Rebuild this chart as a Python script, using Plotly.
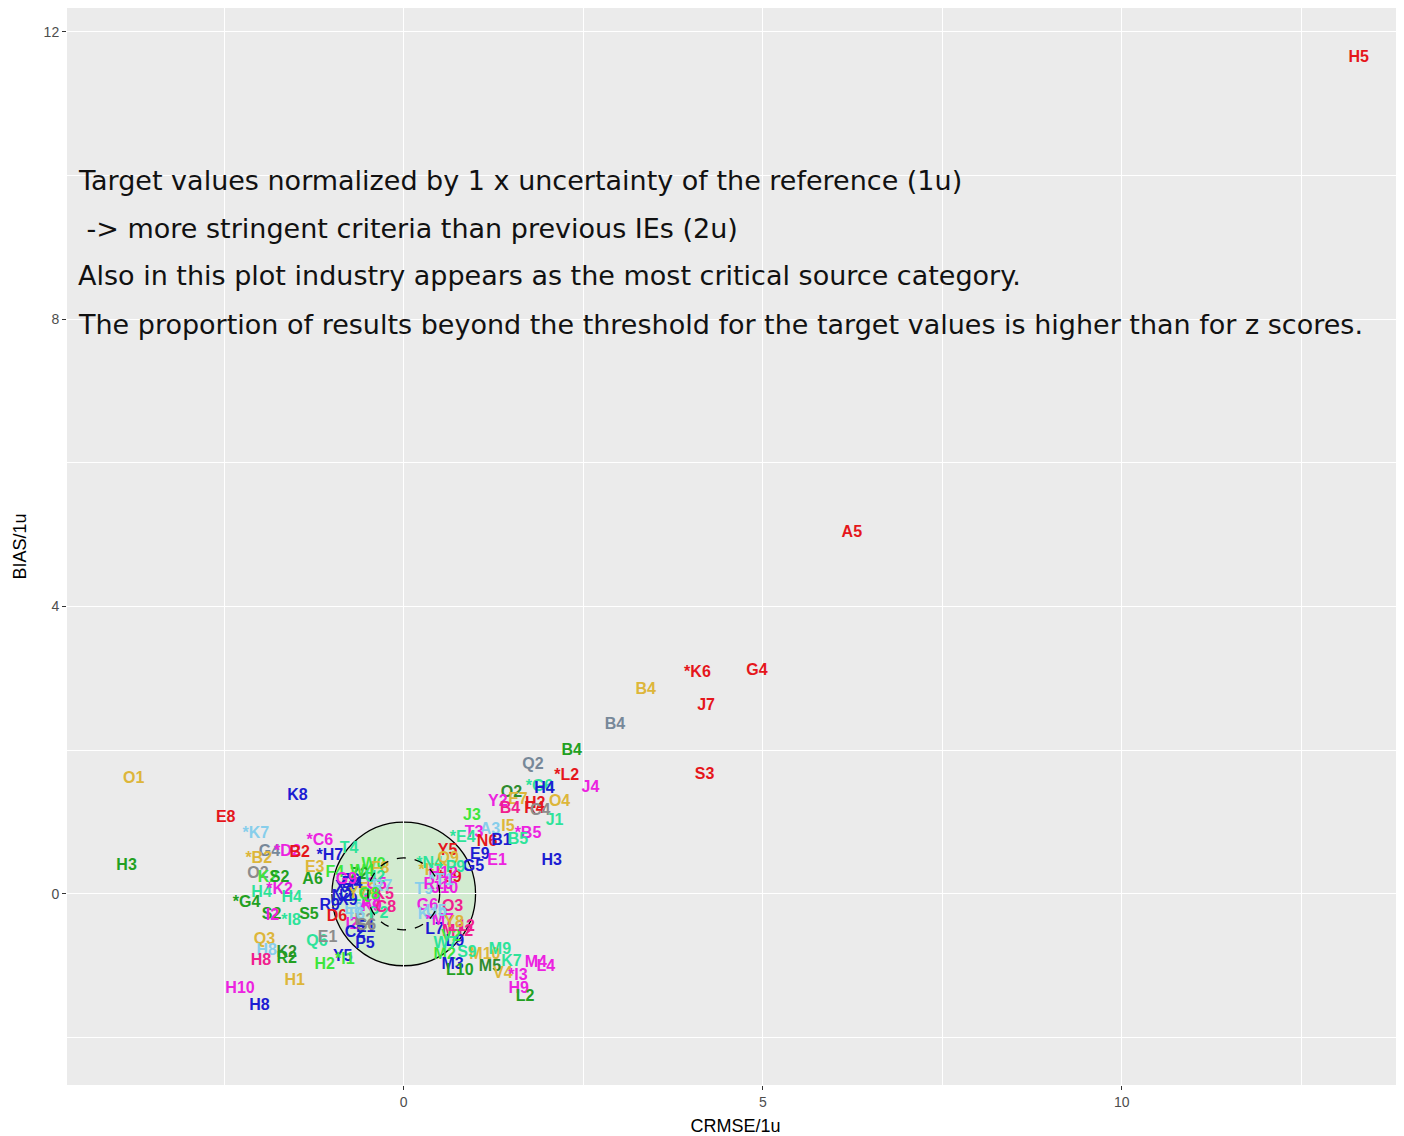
import plotly.graph_objects as go

# ---- data: label, CRMSE/1u (x), BIAS/1u (y), colour group ----
labels = [
    "H5", "A5", "*K6", "G4", "B4", "J7", "B4", "B4", "S3", "Q2", "*L2", "J4", "*G6", "H4",
    "O2", "Y2", "E7", "H2", "O4", "B4", "R4", "C4", "J1", "J3", "I5", "*B5", "A3", "T3",
    "*E4", "N6", "B1", "B5", "Y5", "E9", "E1", "H3", "G5", "*J9", "J10", "G6", "O3", "L7",
    "M12", "L9", "M2", "M3", "L10", "M10", "M9", "M5", "K7", "V4", "*I3", "M4", "L4", "H9", "L2",
    "O1", "H3", "K8", "E8", "*K7", "G4", "*D2", "B2", "*C6", "*H7", "T4", "*B2", "E3", "O2",
    "K2", "S2", "A6", "F4", "H4", "*K2", "H4", "*G4", "S2", "I2", "*I8", "S5", "R9", "D6",
    "Q3", "H8", "K2", "H8", "R2", "Q6", "E1", "P5", "Y5", "H2", "*I1", "H1", "H10", "H8",
    "E1", "I2", "C2",
    # dense cluster left of centre
    "W0", "F8", "Z6", "X4", "K9", "L5", "L8", "E2", "C5", "Z2", "X9", "K5", "F2", "T6",
    "P2", "W4", "A8", "N2", "Y7", "C8", "D4", "U2", "S6", "R7", "G9", "Q8",
    # dense cluster right of centre
    "*F7", "H12", "T9", "*N4", "R10", "Q9", "K10", "*M7", "P9", "V2", "L12", "W7", "U5",
    "S9", "*T1", "Y8",
]
x_vals = [
    13.30, 6.24, 4.09, 4.92, 3.37, 4.21, 2.94, 2.34, 4.19, 1.80, 2.27, 2.60, 1.89, 1.96,
    1.50, 1.31, 1.59, 1.83, 2.17, 1.48, 1.82, 1.90, 2.10, 0.95, 1.45, 1.73, 1.20, 0.98,
    0.82, 1.16, 1.36, 1.59, 0.61, 1.06, 1.30, 2.06, 0.97, 0.64, 0.57, 0.33, 0.68, 0.43,
    0.75, 0.71, 0.57, 0.68, 0.78, 1.13, 1.34, 1.20, 1.50, 1.38, 1.59, 1.84, 1.98, 1.60, 1.69,
    -3.76, -3.86, -1.48, -2.48, -2.06, -1.87, -1.62, -1.45, -1.17, -1.03, -0.76, -2.02, -1.24, -2.03,
    -1.89, -1.73, -1.27, -0.96, -1.98, -1.73, -1.56, -2.19, -1.84, -1.83, -1.57, -1.32, -1.03, -0.93,
    -1.94, -1.91, -1.63, -1.99, -1.63, -1.21, -1.06, -0.54, -0.85, -1.10, -0.82, -1.52, -2.28, -2.01,
    -0.53, -0.72, -0.68,
    -0.42, -0.33, -0.74, -0.82, -0.45, -0.60, -0.70, -0.55, -0.38, -0.62, -0.78, -0.28, -0.50, -0.67,
    -0.35, -0.58, -0.46, -0.86, -0.64, -0.25, -0.72, -0.40, -0.52, -0.30, -0.80, -0.48,
    0.38, 0.55, 0.28, 0.36, 0.48, 0.62, 0.40, 0.50, 0.72, 0.66, 0.80, 0.58, 0.45,
    0.88, 0.52, 0.70,
]
y_vals = [
    11.63, 5.02, 3.07, 3.10, 2.84, 2.61, 2.35, 1.99, 1.66, 1.79, 1.64, 1.47, 1.49, 1.46,
    1.40, 1.28, 1.31, 1.25, 1.28, 1.18, 1.18, 1.15, 1.02, 1.08, 0.93, 0.83, 0.89, 0.85,
    0.78, 0.72, 0.74, 0.75, 0.60, 0.54, 0.46, 0.46, 0.38, 0.22, 0.07, -0.17, -0.18, -0.50,
    -0.53, -0.67, -0.85, -0.99, -1.07, -0.85, -0.78, -1.02, -0.95, -1.11, -1.14, -0.96, -1.02, -1.32, -1.43,
    1.60, 0.39, 1.36, 1.06, 0.83, 0.58, 0.58, 0.57, 0.74, 0.53, 0.62, 0.49, 0.36, 0.28,
    0.22, 0.22, 0.19, 0.29, 0.01, 0.06, -0.06, -0.13, -0.29, -0.31, -0.38, -0.29, -0.17, -0.32,
    -0.64, -0.80, -0.82, -0.93, -0.90, -0.67, -0.62, -0.70, -0.88, -0.99, -0.92, -1.21, -1.32, -1.56,
    -0.47, -0.43, -0.55,
    0.40, 0.34, 0.18, 0.08, -0.18, -0.05, -0.22, -0.38, 0.12, 0.26, -0.10, -0.02, 0.05, -0.30,
    -0.28, 0.30, -0.12, -0.05, 0.00, -0.20, 0.14, 0.22, -0.45, 0.10, 0.20, -0.02,
    0.32, 0.28, 0.05, 0.42, 0.12, 0.48, -0.30, -0.38, 0.36, -0.60, -0.46, -0.70, -0.25,
    -0.82, 0.18, -0.40,
]
groups = [
    "red", "red", "red", "red", "gold", "red", "slate", "green", "red", "slate", "red", "magenta", "spring", "blue",
    "dkgreen", "magenta", "gold", "red", "gold", "pink", "red", "gray", "spring", "bright", "gold", "magenta", "light", "magenta",
    "spring", "red", "blue", "spring", "red", "blue", "magenta", "blue", "blue", "red", "magenta", "magenta", "pink", "blue",
    "pink", "blue", "bright", "blue", "green", "gold", "spring", "dkgreen", "spring", "gold", "magenta", "magenta", "magenta", "magenta", "green",
    "gold", "green", "blue", "red", "light", "slate", "magenta", "red", "magenta", "blue", "spring", "gold", "gold", "gray",
    "bright", "green", "green", "bright", "spring", "magenta", "spring", "green", "green", "magenta", "spring", "green", "blue", "red",
    "gold", "light", "dkgreen", "pink", "green", "spring", "gray", "blue", "blue", "bright", "bright", "gold", "magenta", "blue",
    "blue", "magenta", "blue",
    "bright", "gold", "blue", "blue", "magenta", "spring", "light", "gray", "magenta", "green", "blue", "pink", "gold", "light",
    "spring", "bright", "magenta", "blue", "gold", "pink", "blue", "spring", "gray", "light", "magenta", "bright",
    "gold", "magenta", "light", "spring", "magenta", "gold", "light", "magenta", "spring", "bright", "pink", "spring", "light",
    "spring", "light", "gold",
]

palette = {
    "red": "#E5161B", "gold": "#DDB63A", "blue": "#1C1CD2", "green": "#22A022",
    "slate": "#778899", "magenta": "#EC22E0", "pink": "#F0208E", "light": "#87CEEB",
    "spring": "#2EE39A", "bright": "#3DE63D", "dkgreen": "#2E8B2E", "gray": "#8C8C8C",
}
colors = [palette[g] for g in groups]

notes = [
    "Target values normalized by 1 x uncertainty of the reference (1u)",
    " -> more stringent criteria than previous IEs (2u)",
    "Also in this plot industry appears as the most critical source category.",
    "The proportion of results beyond the threshold for the target values is higher than for z scores.",
]
note_y = [9.93, 9.26, 8.60, 7.93]

fig = go.Figure()

fig.add_trace(go.Scatter(
    x=x_vals, y=y_vals, mode="text", text=labels,
    textfont=dict(family="Liberation Sans, Arial, sans-serif", size=16, color=colors, weight="bold"),
    textposition="middle center", hoverinfo="skip", showlegend=False,
))

# target circles
fig.add_shape(type="circle", xref="x", yref="y", x0=-1, y0=-1, x1=1, y1=1,
              fillcolor="rgba(190,235,185,0.55)", line=dict(color="black", width=1.3), layer="below")
fig.add_shape(type="circle", xref="x", yref="y", x0=-0.5, y0=-0.5, x1=0.5, y1=0.5,
              line=dict(color="black", width=1.3, dash="dash"), layer="above")

for t, yy in zip(notes, note_y):
    fig.add_annotation(x=-4.56, y=yy, xref="x", yref="y", text=t, showarrow=False,
                       xanchor="left", yanchor="middle",
                       font=dict(family="DejaVu Sans", size=27, color="#111111"))

fig.update_layout(
    width=1396, height=1128,
    margin=dict(l=59, r=0, t=0, b=51, autoexpand=False),
    plot_bgcolor="#EBEBEB", paper_bgcolor="white",
    font=dict(family="Liberation Sans, Arial, sans-serif"),
)
fig.update_xaxes(
    range=[-4.69, 13.93], tickvals=[0, 5, 10], ticktext=["0", "5", "10"],
    showgrid=True, gridcolor="white", gridwidth=1.3, zeroline=False, automargin=False,
    ticks="outside", ticklen=4, tickcolor="#333333", tickwidth=1,
    tickfont=dict(size=14, color="#4D4D4D"),
    minor=dict(tickvals=[-2.5, 2.5, 7.5, 12.5], showgrid=True, gridcolor="white", gridwidth=0.6, ticks=""),
    title=dict(text="CRMSE/1u", font=dict(size=18, color="black"), standoff=10),
    showline=False,
)
fig.update_yaxes(
    range=[-2.66, 12.33], tickvals=[0, 4, 8, 12], ticktext=["0", "4", "8", "12"],
    showgrid=True, gridcolor="white", gridwidth=1.3, zeroline=False, automargin=False,
    ticks="outside", ticklen=4, tickcolor="#333333", tickwidth=1,
    tickfont=dict(size=14, color="#4D4D4D"),
    minor=dict(tickvals=[-2, 2, 6, 10], showgrid=True, gridcolor="white", gridwidth=0.6, ticks=""),
    title=dict(text="BIAS/1u", font=dict(size=18, color="black"), standoff=12),
    showline=False,
)

fig.write_html("out.html")
